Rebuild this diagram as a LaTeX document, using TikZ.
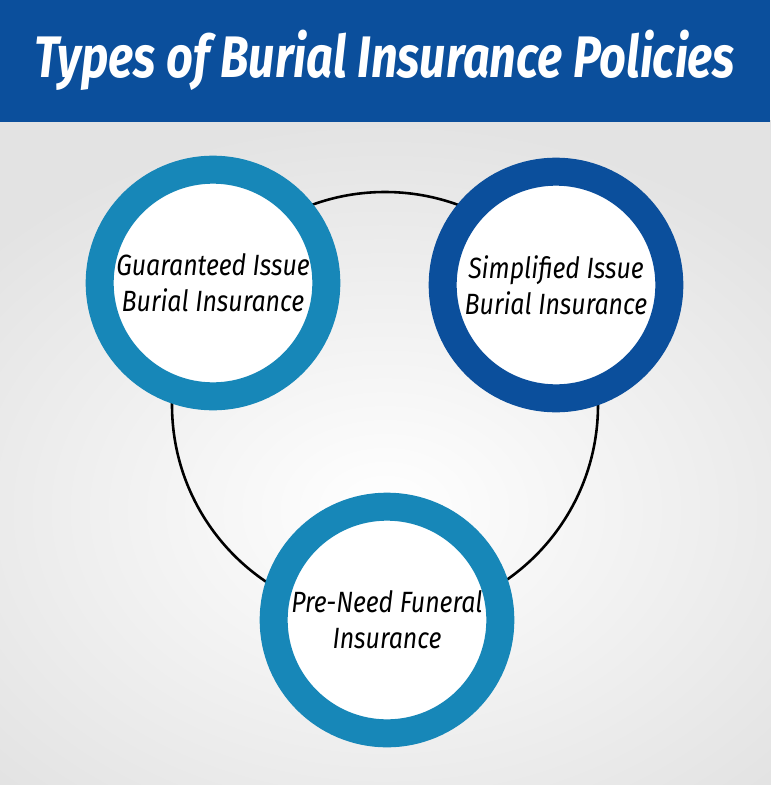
\documentclass[tikz,border=0pt]{standalone}
\usepackage{fontspec}
\setmainfont{Fira Sans}
\usetikzlibrary{positioning}
\definecolor{bandblue}{HTML}{0B4F9C}
\definecolor{ringlight}{HTML}{1787B8}
\definecolor{ringdark}{HTML}{0B4F9C}
\tikzset{
  ring/.style={circle, draw=#1, line width=0.84cm, fill=white, minimum size=6.8cm,
    align=center, font=\fontsize{25}{31}\selectfont\itshape, inner sep=0pt},
}
\begin{document}
\begin{tikzpicture}[x=0.03cm,y=-0.03cm]
  \useasboundingbox (0,0) rectangle (770,785);
  % background
  \fill[gray!25] (0,0) rectangle (770,785);
  \shade[inner color=white, outer color=gray!22] (-150,120) rectangle (920,900);
  \fill[bandblue] (0,0) rectangle (770,122);
  \node[text=white, font=\fontsize{50}{56}\selectfont\bfseries\itshape] (title) at (385,60)
    {\scalebox{0.8}[1]{Types of Burial Insurance Policies}};
  % linking circle
  \coordinate (hub) at (385,405);
  \draw[black, line width=2.2pt] (hub) circle [radius=6.39cm];
  % the three policies
  \node[ring=ringlight] (guaranteed) at (213,283) {\scalebox{0.85}[1]{Guaranteed Issue}\\\scalebox{0.85}[1]{Burial Insurance}};
  \node[ring=ringdark] (simplified) at (556,285) {\scalebox{0.85}[1]{Simplified Issue}\\\scalebox{0.85}[1]{Burial Insurance}};
  \node[ring=ringlight] (preneed) at (387,620) {\scalebox{0.85}[1]{Pre-Need Funeral}\\\scalebox{0.85}[1]{Insurance}};
\end{tikzpicture}
\end{document}
